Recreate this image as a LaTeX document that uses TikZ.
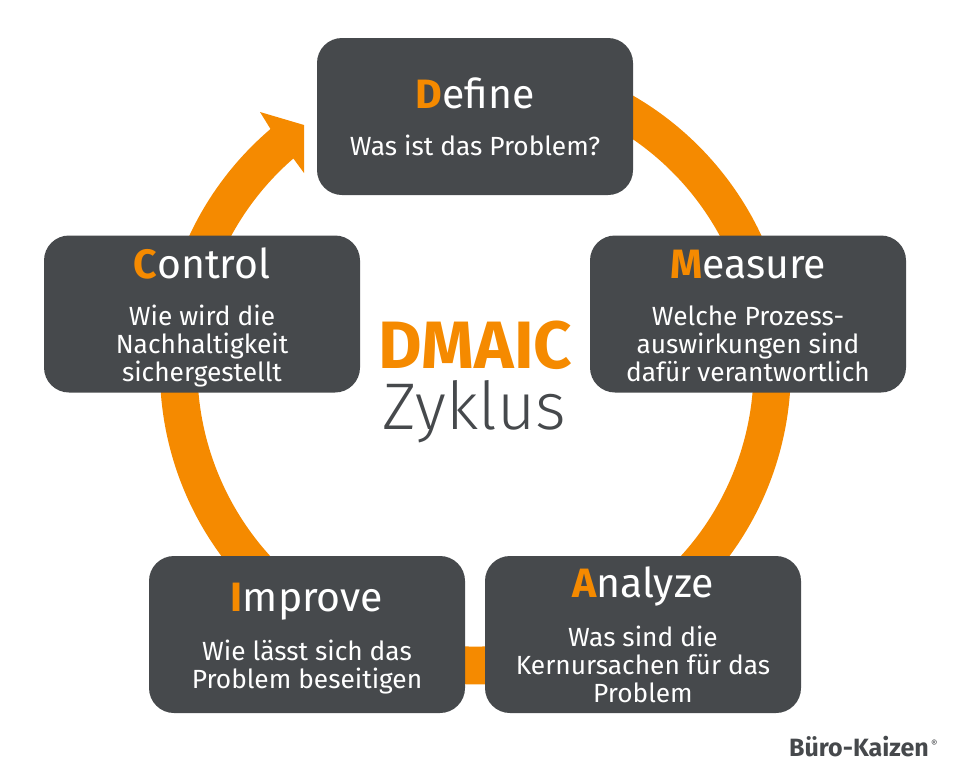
\documentclass[tikz,border=0pt]{standalone}
\usepackage{fontspec}
\usepackage[dvipsnames]{xcolor}
\setmainfont{Fira Sans}
\newfontfamily\lightfont{Fira Sans Light}
\definecolor{ringorange}{HTML}{F58A00}
\definecolor{boxgray}{HTML}{46494C}
\newcommand{\phasetitle}[2]{{\fontsize{41}{44}\selectfont\rule{0pt}{39.4pt}\textcolor{ringorange}{\bfseries #1}#2}}

\begin{document}
\begin{tikzpicture}[x=1pt,y=-1pt,phase node/.style={draw=none,fill=boxgray,text=white,rounded corners=25pt,minimum width=316pt,minimum height=157pt,inner sep=0pt,align=center,font=\fontsize{26.3}{28}\selectfont}]
            \useasboundingbox (0,0) rectangle (959,758);
            \coordinate (ringc) at (475.5,368.5);
            \coordinate (notch a) at (270.5,129);
            \coordinate (notch b) at (293,158);
            \coordinate (barb a) at (260,112);
            \coordinate (barb b) at (304,173);
            \coordinate (tip) at (304,125);

            \fill[ringorange] (notch a) arc[start angle=130.5,end angle=430,radius=315.5pt]
                -- ([shift={(70:278pt)}]ringc) arc[start angle=70,end angle=-229.5,radius=278pt]
                -- (notch b) -- (barb b) -- (tip) -- (barb a) -- cycle;

            \node[phase node] (define) at (475,116.5) {\phasetitle{D}{efine}\\[19pt]Was ist das Problem?\strut};
            \node[phase node] (measure) at (748,314) {\phasetitle{M}{easure}\\[19pt]Welche Prozess-\\auswirkungen sind\\dafür verantwortlich\strut};
            \node[phase node] (analyze) at (643,634.5) {\phasetitle{A}{nalyze}\\[19pt]Was sind die\\Kernursachen für das\\Problem\strut};
            \node[phase node] (improve) at (307,634.5) {\phasetitle{I}{mprove}\\[19pt]Wie lässt sich das\\Problem beseitigen\strut};
            \node[phase node] (control) at (202,314) {\phasetitle{C}{ontrol}\\[19pt]Wie wird die\\Nachhaltigkeit\\sichergestellt\strut};

            \node[text=ringorange,font=\fontsize{67}{67}\selectfont\bfseries,anchor=base,inner sep=0pt] (dmaic) at (475.5,368) {DMAIC};
            \node[text=boxgray,font=\lightfont\fontsize{66}{66}\selectfont,anchor=base,inner sep=0pt] (zyklus) at (474,429) {Zyklus};
            \node[text=boxgray,font=\fontsize{25}{25}\selectfont\bfseries,anchor=base west,inner sep=0pt] (brand) at (789,756) {Büro-Kaizen};
            \node[text=boxgray,font=\fontsize{10}{10}\selectfont,anchor=base west,inner sep=0pt] (regmark) at (brand.base east) [xshift=2pt,yshift=9pt] {®};
        \end{tikzpicture}
\end{document}
